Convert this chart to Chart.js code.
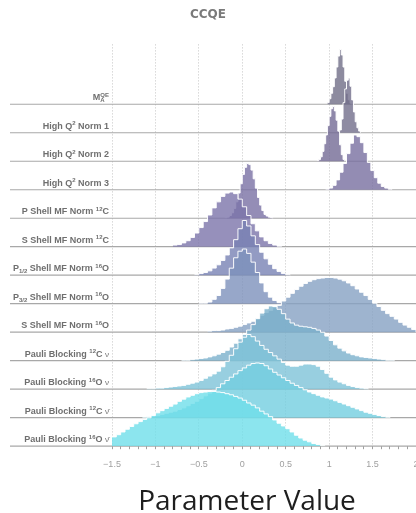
<!DOCTYPE html>
<html>
<head>
<meta charset="utf-8">
<script src="https://cdn.jsdelivr.net/npm/chart.js@4.4.1/dist/chart.umd.min.js"></script>
<style>
  html, body { margin: 0; padding: 0; background: #fff; }
  #wrap { width: 416px; height: 513px; position: relative; }
</style>
</head>
<body>
<div id="wrap"><canvas id="ccqe"></canvas></div>
<script>
// parameters, top row first; ^{..} superscript, _{..} subscript, ~{..} regular weight
const rowLabels = [
  'M_{A}^{QE}',
  'High Q^{2} Norm 1',
  'High Q^{2} Norm 2',
  'High Q^{2} Norm 3',
  'P Shell MF Norm ^{12}C',
  'S Shell MF Norm ^{12}C',
  'P_{1/2} Shell MF Norm ^{16}O',
  'P_{3/2} Shell MF Norm ^{16}O',
  'S Shell MF Norm ^{16}O',
  'Pauli Blocking ^{12}C ~{ν}',
  'Pauli Blocking ^{16}O ~{ν}',
  'Pauli Blocking ^{12}C ~{ν̄}',
  'Pauli Blocking ^{16}O ~{ν̄}'
];

// left edge of the first bin and bin width for each posterior
const binStart = [0.98, 1.12, 0.86, 0.96, -0.2, -0.8, -0.55, -0.5, -0.4, -0.7, -1.1, -1.15, -1.5];
const binWidth = [0.02, 0.02, 0.02, 0.04, 0.025, 0.05, 0.05, 0.05, 0.05, 0.05, 0.05, 0.05, 0.05];

// bin heights, percent of each posterior's peak
const maQE = [3, 10, 20, 32, 48, 68, 88, 100, 90, 68, 42, 20, 8, 2, 0];
const highQ2Norm1 = [5, 25, 55, 80, 96, 100, 85, 60, 38, 20, 9, 3, 0];
const highQ2Norm2 = [1, 3, 8, 18, 32, 48, 65, 82, 96, 100, 92, 75, 55, 30, 12, 3, 0];
const highQ2Norm3 = [1, 3, 8, 18, 32, 48, 66, 85, 100, 97, 86, 68, 50, 35, 22, 12, 6, 3, 1, 0];
const pShell12C = [1, 2, 5, 10, 18, 30, 46, 63, 80, 93, 100, 98, 88, 72, 55, 38, 24, 14, 7, 4, 2, 1, 0];
const sShell12C = [3, 4, 7, 11, 17, 25, 35, 46, 58, 71, 82, 92, 98, 100, 97, 87, 73, 57, 42, 29, 18, 11, 6, 3, 1, 0];
const p12Shell16O = [1, 3, 5, 8, 13, 19, 27, 37, 50, 65, 85, 100, 90, 72, 56, 42, 30, 20, 12, 7, 3, 1, 0];
const p32Shell16O = [1, 1, 3, 8, 15, 28, 45, 65, 84, 96, 100, 92, 76, 57, 38, 22, 12, 6, 2, 1, 0];
const sShell16O = [2, 3, 3, 4, 6, 7, 9, 11, 14, 17, 20, 24, 31, 36, 40, 45, 49, 57, 64, 71,
  78, 84, 89, 93, 96, 98, 99, 100, 100, 99, 97, 94, 90, 85, 79, 73, 67, 60, 53, 47,
  40, 34, 29, 24, 18, 13, 9, 5, 0];
const pauli12CNu = [1, 1, 2, 3, 4, 5, 7, 9, 12, 15, 19, 25, 32, 40, 48, 56, 66, 77, 87, 95,
  100, 99, 94, 86, 76, 69, 65, 63, 62, 61, 59, 56, 52, 45, 37, 29, 23, 18, 14, 11,
  9, 7, 6, 5, 4, 3, 2, 1, 1, 0];
const pauli16ONu = [1, 1, 2, 2, 3, 4, 5, 6, 7, 9, 11, 13, 16, 20, 24, 28, 33, 41, 51, 62,
  74, 86, 95, 100, 96, 88, 80, 73, 67, 61, 55, 49, 44, 42, 42, 44, 46, 46, 45, 42,
  36, 29, 22, 17, 13, 10, 7, 5, 3, 2, 1, 0];
const pauli12CNubar = [1, 2, 3, 4, 6, 8, 10, 12, 15, 18, 22, 26, 30, 35, 40, 45, 50, 55, 62, 68,
  74, 80, 86, 91, 96, 99, 100, 99, 95, 89, 83, 78, 73, 68, 63, 59, 55, 51, 47, 44,
  41, 38, 36, 34, 31, 28, 25, 22, 19, 16, 13, 10, 8, 6, 4, 2, 1, 0];
const pauli16ONubar = [17, 21, 26, 31, 36, 41, 45, 49, 52, 56, 61, 65, 69, 73, 77, 82, 86, 90, 93, 96,
  98, 99, 100, 100, 99, 98, 96, 94, 91, 88, 84, 79, 75, 70, 64, 59, 54, 48, 42, 37,
  32, 26, 20, 15, 11, 8, 5, 3, 1, 0];

const binHeights = [maQE, highQ2Norm1, highQ2Norm2, highQ2Norm3, pShell12C, sShell12C,
  p12Shell16O, p32Shell16O, sShell16O, pauli12CNu, pauli16ONu, pauli12CNubar, pauli16ONubar];

// colour each ridge shows over white
const ridgeColors = ['#8d8b9f', '#8e8ba2', '#8f88aa', '#938cb3', '#948db6', '#9690bb', '#939bc3',
  '#97a7c9', '#9eb4cf', '#95c0d6', '#98cfe0', '#8fd8e6', '#8ce5ee'];

const xTicks = [-1.5, -1, -0.5, 0, 0.5, 1, 1.5, 2];

const PEAK = 1.92;      // ridge height in row spacings
const ALPHA = 0.8;
const nRows = rowLabels.length;
const baseOf = i => nRows - 1 - i;

function translucent(hex, a) {
  const c = [1, 3, 5].map(k => parseInt(hex.substr(k, 2), 16));
  const rgb = c.map(v => Math.max(0, Math.round((v - 255 * (1 - a)) / a)));
  return `rgba(${rgb.join(',')},${a})`;
}

const datasets = binHeights.map((h, i) => ({
  label: rowLabels[i],
  data: h.map((v, k) => ({ x: binStart[i] + k * binWidth[i], y: baseOf(i) + v / 100 * PEAK })),
  stepped: true,
  fill: { value: baseOf(i) },
  backgroundColor: translucent(ridgeColors[i], ALPHA),
  borderColor: 'rgba(255,255,255,0.95)',
  borderWidth: 1,
  pointRadius: 0,
  order: nRows - i
}));

function parseLabel(text) {
  const kinds = { '^': 'sup', '_': 'sub', '~': 'plain' };
  const parts = [];
  const re = /([\^_~])\{([^}]*)\}|([^\^_~]+)/g;
  let m;
  while ((m = re.exec(text))) {
    if (m[3]) parts.push({ kind: 'main', text: m[3] });
    else parts.push({ kind: kinds[m[1]], text: m[2] });
  }
  return parts;
}

const labelFont = { main: 'bold 9px Arial', sup: 'bold 6px Arial', sub: 'bold 6px Arial', plain: '8px Arial' };
const labelShift = { main: 0, sup: -3.5, sub: 2, plain: 0 };

function drawLabel(ctx, text, right, baseline) {
  let x = 0, prev = null;
  const placed = parseLabel(text).map(p => {
    ctx.font = labelFont[p.kind];
    const w = ctx.measureText(p.text).width;
    let px = x;
    if (p.kind === 'sup' && prev && prev.kind === 'sub') {
      // stack over the subscript
      px = prev.x;
      x = prev.x + Math.max(prev.w, w);
    } else {
      x += w;
    }
    prev = { ...p, x: px, w };
    return prev;
  });
  placed.forEach(p => {
    ctx.font = labelFont[p.kind];
    ctx.fillText(p.text, right - x + p.x, baseline + labelShift[p.kind]);
  });
}

// row baselines and parameter names, drawn under the ridges
const rowAxis = {
  id: 'rowAxis',
  beforeDatasetsDraw(chart) {
    const { ctx, scales: { y } } = chart;
    ctx.save();
    ctx.textAlign = 'left';
    ctx.textBaseline = 'alphabetic';
    rowLabels.forEach((label, i) => {
      const yPix = y.getPixelForValue(baseOf(i));
      ctx.strokeStyle = '#a8a8a8';
      ctx.lineWidth = 1.2;
      ctx.beginPath();
      ctx.moveTo(10, yPix);
      ctx.lineTo(chart.width, yPix);
      ctx.stroke();
      ctx.fillStyle = '#6f6f6f';
      drawLabel(ctx, label, 109, yPix - 4);
    });
    ctx.restore();
  }
};

const axisCaption = {
  id: 'axisCaption',
  afterDraw(chart) {
    const { ctx } = chart;
    ctx.save();
    ctx.font = '28px "Open Sans"';
    ctx.fillStyle = '#1e1e1e';
    ctx.textAlign = 'center';
    ctx.textBaseline = 'alphabetic';
    ctx.fillText('Parameter Value', 247, 510);
    ctx.restore();
  }
};

const isMajor = v => Math.abs(Math.round(v * 10) % 5) === 0;

new Chart(document.getElementById('ccqe'), {
  type: 'line',
  data: { datasets },
  plugins: [rowAxis, axisCaption],
  options: {
    responsive: true,
    maintainAspectRatio: false,
    animation: false,
    layout: { padding: { left: 0, right: 0, top: 0, bottom: 33 } },
    plugins: {
      legend: { display: false },
      tooltip: { enabled: false },
      title: {
        display: true,
        text: 'CCQE',
        color: '#7a7a7a',
        font: { family: '"DejaVu Sans"', size: 12, weight: 'bold' },
        padding: { top: 8, bottom: 22 }
      }
    },
    scales: {
      x: {
        type: 'linear',
        min: xTicks[0],
        max: xTicks[xTicks.length - 1],
        border: { display: false, dash: [1, 2] },
        grid: {
          color: ctx => (ctx.tick && isMajor(ctx.tick.value) ? '#c4c4c4' : 'rgba(0,0,0,0)'),
          tickColor: '#a0a0a0',
          tickLength: 3
        },
        ticks: {
          stepSize: 0.1,
          autoSkip: false,
          maxTicksLimit: 100,
          maxRotation: 0,
          padding: 10,
          color: '#a0a0a0',
          font: { family: 'Arial', size: 9 },
          callback: v => (isMajor(v) ? String(Math.round(v * 10) / 10).replace('-', '\u2212') : '')
        },
        // let the last tick label run off the right edge
        afterFit: scale => { scale.paddingRight = 0; }
      },
      y: {
        type: 'linear',
        min: 0,
        max: 14.1,
        border: { display: false },
        grid: { display: false },
        ticks: { display: false },
        // the parameter names are drawn by rowAxis in this reserved strip
        afterFit: scale => { scale.width = 112; }
      }
    }
  }
});
</script>
</body>
</html>
